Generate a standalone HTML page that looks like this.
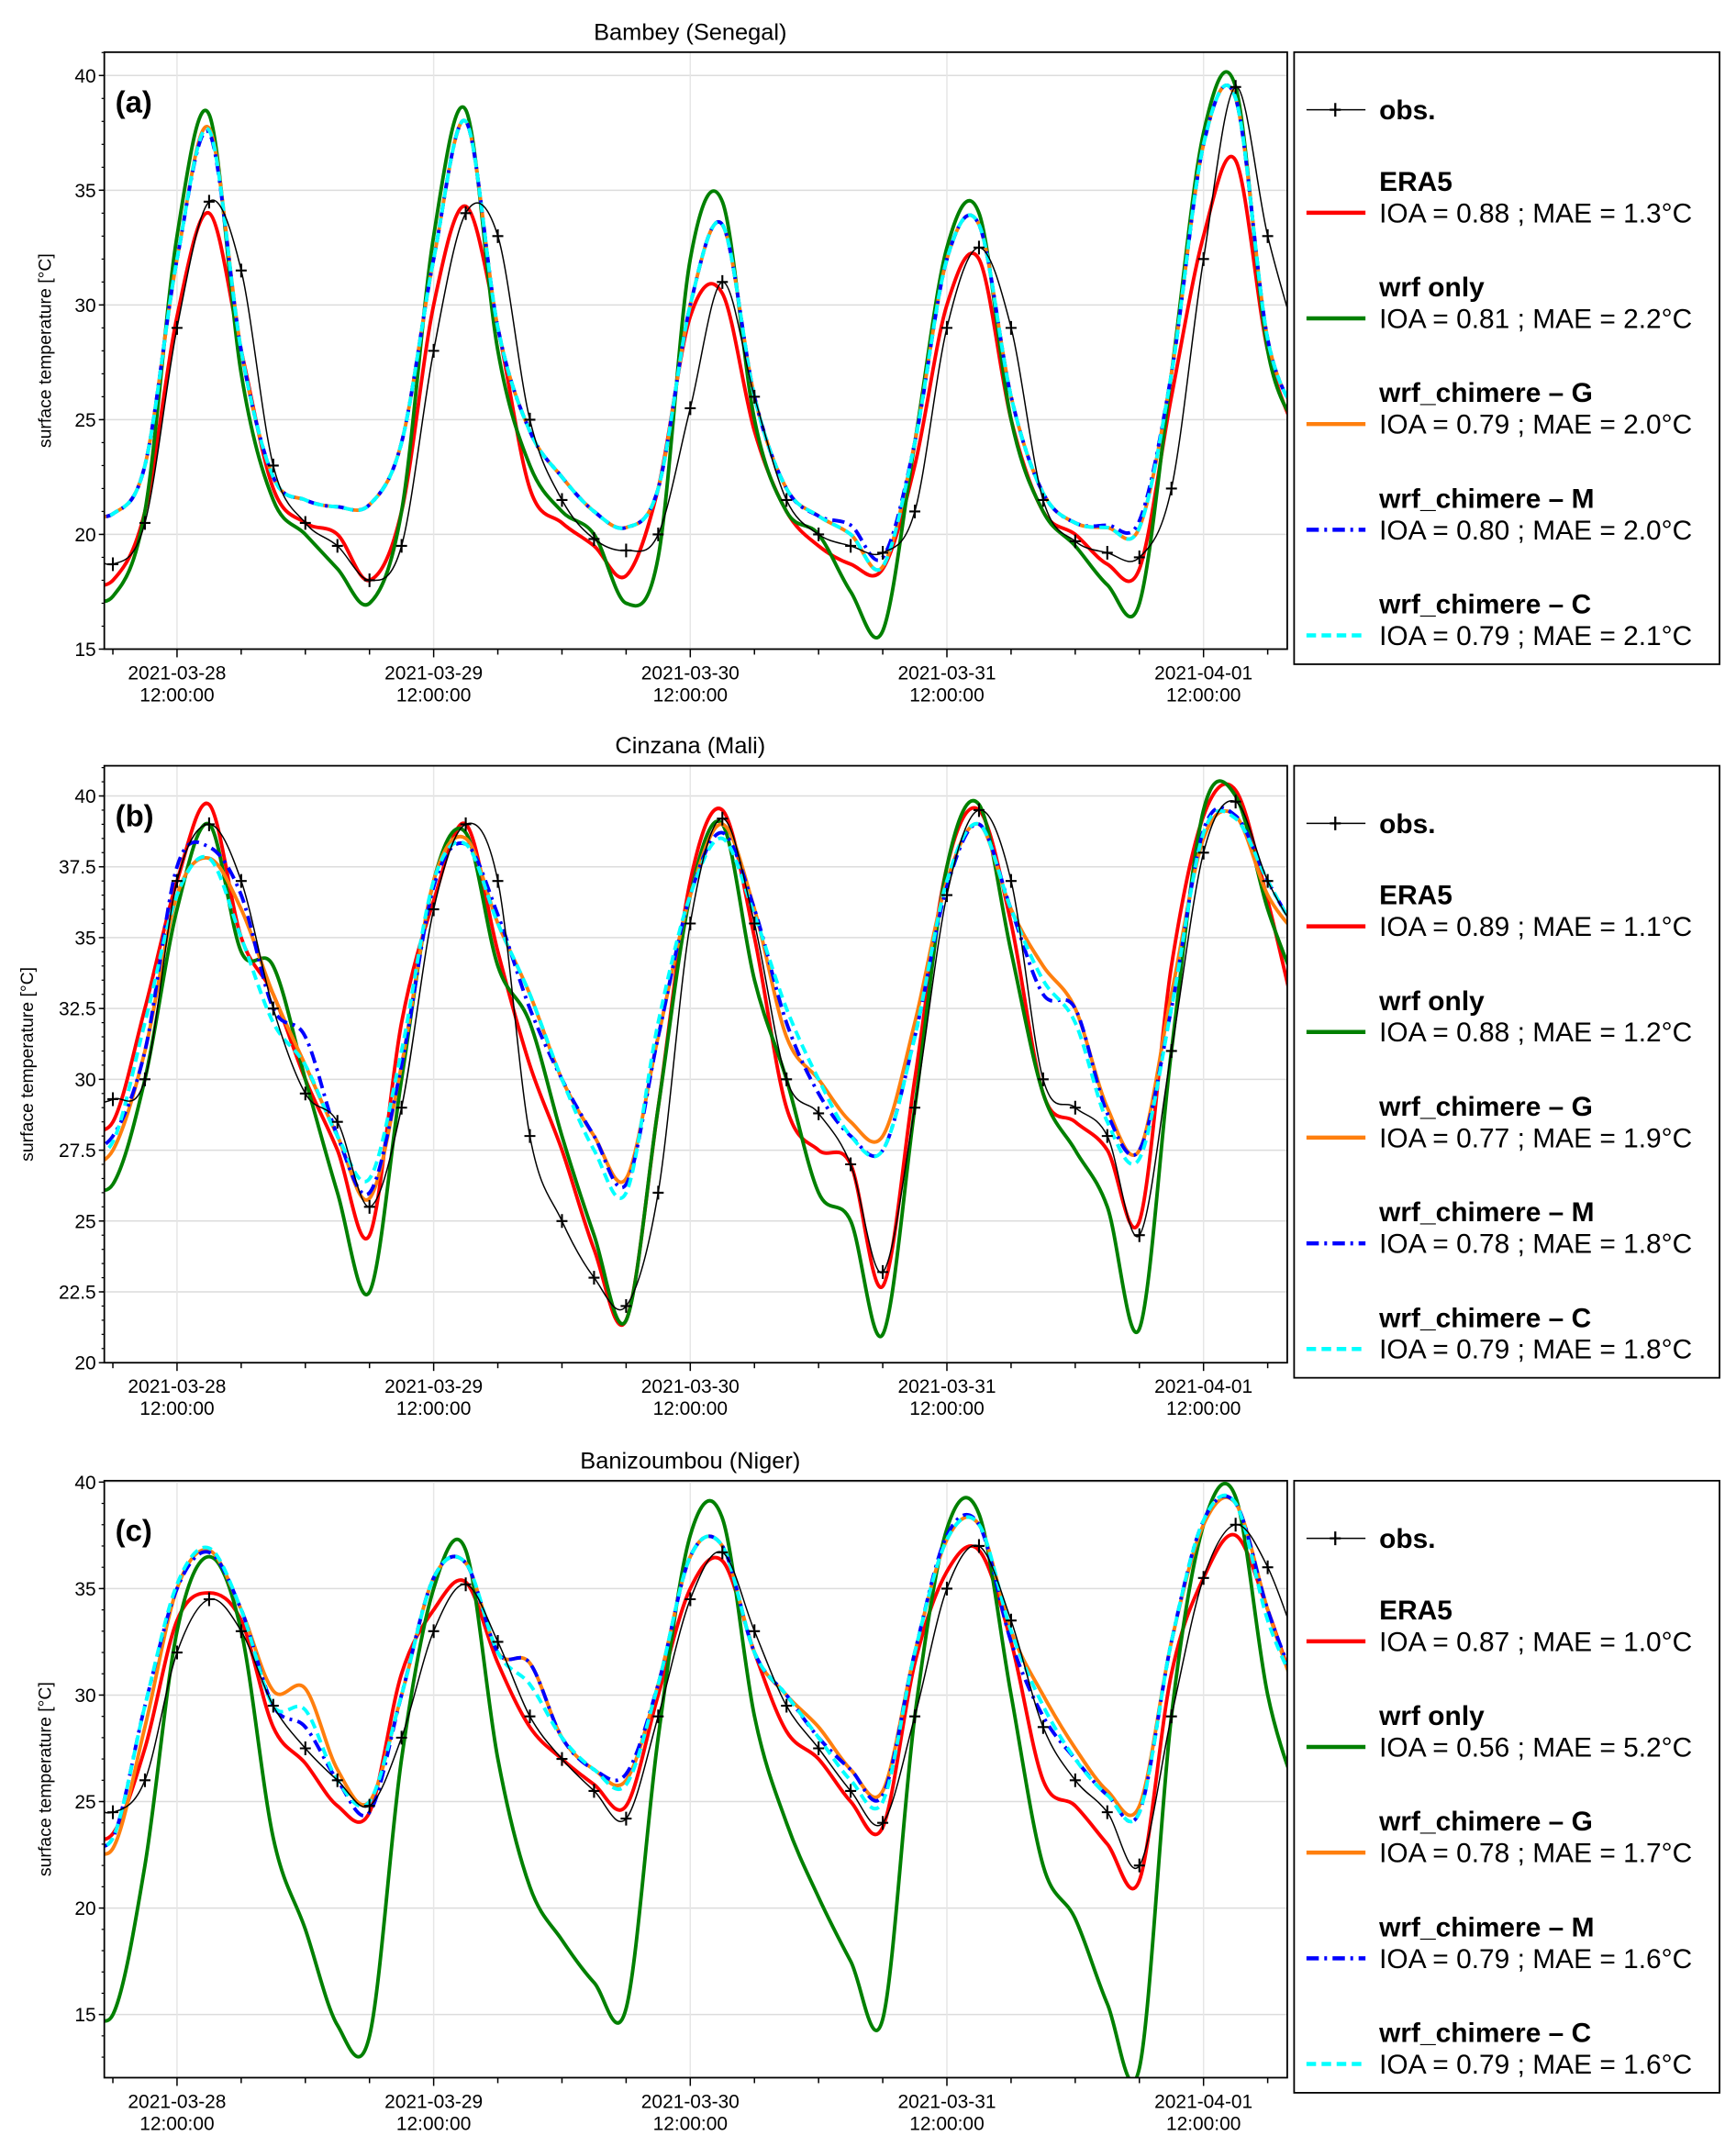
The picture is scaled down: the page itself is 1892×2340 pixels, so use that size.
<!DOCTYPE html>
<html><head><meta charset="utf-8"><style>
html,body{margin:0;padding:0;background:#fff}
svg{display:block;font-family:"Liberation Sans",sans-serif}
</style></head><body>
<svg id="fig" width="1892" height="2340" viewBox="0 0 1265 1564.5" xmlns="http://www.w3.org/2000/svg"></svg>
<script>
// time axis: hours since 2021-03-28 12:00, 3-hourly
const hours = [-9,-6,-3,0,3,6,9,12,15,18,21,24,27,30,33,36,39,42,45,48,51,54,57,60,63,66,69,72,75,78,81,84,87,90,93,96,99,102,105];
const xTickLabels = ["2021-03-28","2021-03-29","2021-03-30","2021-03-31","2021-04-01"];
const xTickHours = [0,24,48,72,96];
const seriesNames = ["obs.","ERA5","wrf only","wrf_chimere - G","wrf_chimere - M","wrf_chimere - C"];
const statsA = ["IOA = 0.88 ; MAE = 1.3°C","IOA = 0.81 ; MAE = 2.2°C","IOA = 0.79 ; MAE = 2.0°C","IOA = 0.80 ; MAE = 2.0°C","IOA = 0.79 ; MAE = 2.1°C"];
const statsB = ["IOA = 0.89 ; MAE = 1.1°C","IOA = 0.88 ; MAE = 1.2°C","IOA = 0.77 ; MAE = 1.9°C","IOA = 0.78 ; MAE = 1.8°C","IOA = 0.79 ; MAE = 1.8°C"];
const statsC = ["IOA = 0.87 ; MAE = 1.0°C","IOA = 0.56 ; MAE = 5.2°C","IOA = 0.78 ; MAE = 1.7°C","IOA = 0.79 ; MAE = 1.6°C","IOA = 0.79 ; MAE = 1.6°C"];

// Panel a – Bambey
const aObs  = [19.5,18.7,20.5,29,34.5,31.5,23,20.5,19.5,18,19.5,28,34,33,25,21.5,19.8,19.3,20,25.5,31,26,21.5,20,19.5,19.2,21,29,32.5,29,21.5,19.7,19.2,19,22,32,39.5,33,28];
const aEra  = [18,18,21,29.5,34,28,22,20.5,20,18,21,30,34.3,29,22,20.5,19.5,18.2,22,29.5,30.5,24.5,21,19.5,18.7,18.5,23,30,32,25,21,20,18.7,18.5,26,33,36.3,28,24];
const aWrf  = [17.5,17.3,21,33,38.3,27,21.5,20,18.5,17,21,33,38.5,28,23,21,20,17,19,32,34.5,25,21,20,17.5,15.8,24,32.5,34,25,21,19.5,17.8,17,27,37.5,39.5,28,24.5];
const aG    = [21,20.9,23,32,37.7,28,22.5,21.5,21.2,21.3,24,32,38,29,24.5,22.5,21,20.3,22,30,33.5,26,22,20.8,20,18.6,24,32,33.5,26,21.8,20.5,20.3,20.3,27,37,39,28.5,25];
const aM    = [21,20.9,23,32,37.5,28,22.5,21.5,21.2,21.3,24,32,38,29,24.5,22.5,21,20.3,22,30,33.5,26,22,20.8,20.4,19,24,32,33.5,26,21.8,20.5,20.4,20.6,27,37,39,28.5,25];
const aC    = [21,20.9,23,32,37.6,28,22.5,21.5,21.2,21.3,24,32,38,29,24.5,22.5,21,20.3,22,30,33.5,26,22,20.8,20,18.6,24,32,33.5,26,21.8,20.5,20.3,20.3,27,37,39,28.5,25];
// Panel b – Cinzana
const bObs  = [29,29.3,30,37,39,37,32.5,29.5,28.5,25.5,29,36,39,37,28,25,23,22,26,35.5,39.2,35.5,30,28.8,27,23.2,29,36.5,39.5,37,30,29,28,24.5,31,38,39.8,37,35];
const bEra  = [28.5,28.5,32.5,37,39.7,35,33,30,27.5,24.5,32,36.3,39,34.5,30.5,27.5,24,21.5,29,37,39.5,35,29,27.5,27,22.7,30,37.5,39.5,35.5,29.5,28.5,27.5,25,34,39.3,40.2,36.3,31.5];
const bWrf  = [26.5,26.3,30,36,39,34.5,34,30,26,22.5,30,37,38.7,34,32,28,24.5,21.5,29,36.5,39,33.5,30,26,25,21,29,37.5,39.7,34.5,29.5,27.5,25.5,21.2,31,39.5,40,36,33];
const bG    = [27,27.5,31,36.5,37.8,36,33,30.5,28,25.8,30.5,37,38.5,35.5,33,30,28,26.5,31.5,36.5,39,36,31.5,30,28.5,28,32,37,39,36,34,32.5,29,27.5,33,38.5,39.3,36.5,35];
const bM    = [27.5,28,31,37.5,38.2,36.5,32.5,31.5,28,26,30.5,36.8,38.3,35.8,32.5,30,28,26.3,31.5,36.5,38.7,36,32,29.5,28,27.5,31.5,36.8,39,36,33,32.5,28.8,27.5,32.5,38.8,39.3,37,35];
const bC    = [27.5,27.8,32,36.5,37.8,35,32,30.5,28,26.5,31,37,38.3,35.5,33,30,27.5,26,32,36.5,38.5,35.8,32.5,30,28,27.5,31.5,37,39,36,33.5,32,28.5,27.2,32.5,38.7,39.2,37,35];
// Panel c – Banizoumbou
const cObs  = [25,24.5,26,32,34.5,33,29.5,27.5,26,24.8,28,33,35.2,32.5,29,27,25.5,24.2,29,34.5,36.7,33,29.5,27.5,25.5,24,29,35,37,33.5,28.5,26,24.5,22,29,35.5,38,36,32];
const cEra  = [23.5,23.5,27.5,33.5,34.8,33.5,28.5,26.8,24.8,24.5,31,34,35.3,31.5,28.5,27,25.8,24.8,30,35,36.3,32,28.3,27,25,23.8,31.5,35.8,36.8,32.5,26,24.8,23,21.3,31,35.5,37.5,34,29.5];
const cWrf  = [16,15,22,33,36.5,33,23.3,19,14.5,14,27,35,36.8,27,21,18.5,16.5,15.3,28,37.5,38.3,29,24,20.5,17.5,14.8,29,37.8,38.5,30,22,19.5,15.5,12.5,29,38,39.3,30,25];
const cG    = [23.5,22.8,28.5,35,36.8,34,30.2,30.3,26.5,25,30,35.5,36.2,32,31.5,28,26.5,26,30.5,36.5,37,32,30,28.5,26.5,25.5,32,37.3,38,33,30,27.5,25.5,24.8,32.5,38,39,34,29.5];
const cM    = [23.5,23.3,29.5,35,36.7,34,29.5,28.5,26,24.5,30,35.5,36.2,32,31.5,28,26.5,26.3,30.5,36.5,37,32,30,28,26.5,25.3,32,37.5,38,32.5,29,27,25.3,24.5,32.5,38.2,39,34,30];
const cC    = [23.5,23.3,29.5,35.2,36.9,34,29.5,29.3,26,25,30,35.5,36.2,32,30.5,28,26.5,25.8,30.5,36.5,37,32,30,28,26,25,32,37.3,38,33,29.5,27,25.3,24.5,32.5,38.2,39,33.5,30];

const NS="http://www.w3.org/2000/svg";
const svg=document.getElementById('fig');
function mk(tag,attrs,parent){const e=document.createElementNS(NS,tag);for(const k in attrs)e.setAttribute(k,attrs[k]);(parent||svg).appendChild(e);return e;}

const X0=76,X1=938,XT0=129,PXH=187/24;
function xs(h){return XT0+h*PXH;}
const colors=["#000","#ff0000","#008000","#ff7f0e","#0000ff","#00ffff"];
const dashes=["","","","","9,4,2,4","7,4"];
const widths=[1,2.6,2.6,2.6,2.6,2.6];

function smoothPath(pts){
  let d="M"+pts[0][0].toFixed(1)+","+pts[0][1].toFixed(1);
  for(let i=0;i<pts.length-1;i++){
    const p0=pts[Math.max(0,i-1)],p1=pts[i],p2=pts[i+1],p3=pts[Math.min(pts.length-1,i+2)];
    const c1=[p1[0]+(p2[0]-p0[0])/6,p1[1]+(p2[1]-p0[1])/6];
    const c2=[p2[0]-(p3[0]-p1[0])/6,p2[1]-(p3[1]-p1[1])/6];
    d+=" C"+c1[0].toFixed(1)+","+c1[1].toFixed(1)+" "+c2[0].toFixed(1)+","+c2[1].toFixed(1)+" "+p2[0].toFixed(1)+","+p2[1].toFixed(1);
  }
  return d;
}

function panel(cfg){
  const g=mk('g',{});
  
  
  const ys=v=>cfg.yRef0+(cfg.vRef0-v)*cfg.ppu;
  const T=cfg.top,B=cfg.bottom;
  const title=mk('text',{x:503,y:T-9,'font-size':17,'text-anchor':'middle'},g);
  title.textContent=cfg.title;
  
  
  cfg.yTicks.forEach(v=>{mk('line',{x1:X0,x2:X1,y1:ys(v),y2:ys(v),stroke:'#dcdcdc','stroke-width':1},g);});
  xTickHours.forEach(h=>{mk('line',{x1:xs(h),x2:xs(h),y1:T,y2:B,stroke:'#e6e6e6','stroke-width':1},g);});
  const clipId='clip'+cfg.id;
  const cp=mk('clipPath',{id:clipId},g);mk('rect',{x:X0,y:T,width:X1-X0,height:B-T},cp);
  const sg=mk('g',{'clip-path':'url(#'+clipId+')'},g);
  const order=[1,2,3,4,5,0];
  order.forEach(si=>{
    const vals=cfg.series[si];
    const pts=hours.map((h,i)=>[xs(h),ys(vals[i])]);
    const p=mk('path',{d:smoothPath(pts),fill:'none',stroke:colors[si],'stroke-width':widths[si],'stroke-dasharray':dashes[si],'stroke-linejoin':'round'},sg);
    
    
    if(si===0){
      pts.forEach(q=>{
        const m=mk('path',{d:`M${q[0]-4},${q[1]}h8M${q[0]},${q[1]-5}v10`,stroke:'#000','stroke-width':1.4},sg);
        
        
      });
    }
  });
  mk('rect',{x:X0,y:T,width:X1-X0,height:B-T,fill:'none',stroke:'#000','stroke-width':1.2},g);
  cfg.yTicks.forEach(v=>{
    mk('line',{x1:X0-4,x2:X0,y1:ys(v),y2:ys(v),stroke:'#000'},g);
    const t=mk('text',{x:X0-6,y:ys(v)+5,'font-size':14,'text-anchor':'end'},g);
    t.textContent=String(v);
    
    
  });
  for(let v=Math.ceil(cfg.yMinVis);v<=cfg.yMaxVis;v+=cfg.minor){
    mk('line',{x1:X0-2,x2:X0,y1:ys(v),y2:ys(v),stroke:'#000','stroke-width':0.8},g);
  }
  for(let h=-6;h<=102;h+=6){
    const maj=(h%24===0);
    mk('line',{x1:xs(h),x2:xs(h),y1:B,y2:B+(maj?6:4),stroke:'#000'},g);
  }
  xTickHours.forEach((h,i)=>{
    const t=mk('text',{x:xs(h),y:B+22,'font-size':14,'text-anchor':'middle'},g);
    t.textContent=xTickLabels[i];
    
    
    const t2=mk('text',{x:xs(h),y:B+38,'font-size':14,'text-anchor':'middle'},g);
    t2.textContent="12:00:00";
    
    
  });
  const yl=mk('text',{x:0,y:0,'font-size':13,'text-anchor':'middle',transform:`translate(${cfg.ylx},${(T+B)/2}) rotate(-90)`},g);
  yl.textContent="surface temperature [°C]";
  
  
  const lt=mk('text',{x:84,y:T+44,'font-size':22,'font-weight':'bold'},g);
  lt.textContent=cfg.letter;
  
  
  const lg=mk('g',{},g);
  
  
  mk('rect',{x:943,y:T,width:310,height:446,fill:'#fff',stroke:'#000','stroke-width':1.2},lg);
  const ob=T+42;
  mk('line',{x1:952,x2:995,y1:ob,y2:ob,stroke:'#000','stroke-width':1},lg);
  mk('path',{d:`M969,${ob}h8M973,${ob-5}v10`,stroke:'#000','stroke-width':1.5},lg);
  const to=mk('text',{x:1005,y:ob+7,'font-size':20,'font-weight':'bold'},lg);
  to.textContent="obs.";
  
  
  for(let i=1;i<6;i++){
    const ly=T+117+(i-1)*77;
    mk('line',{x1:952,x2:995,y1:ly,y2:ly,stroke:colors[i],'stroke-width':3,'stroke-dasharray':dashes[i]},lg);
    const n=mk('text',{x:1005,y:ly-16,'font-size':20,'font-weight':'bold'},lg);
    n.textContent=seriesNames[i].replace(' - ',' – ');
    
    
    const s=mk('text',{x:1005,y:ly+7,'font-size':20},lg);
    s.textContent=cfg.stats[i-1];
    
    
  }
}

panel({id:'a',name:'panel-a-bambey',title:'Bambey (Senegal)',letter:'(a)',top:38,bottom:473,yRef0:55,vRef0:40,ppu:16.72,yTicks:[15,20,25,30,35,40],minor:1,yMinVis:15,yMaxVis:41,ylx:37,
  series:[aObs,aEra,aWrf,aG,aM,aC],stats:statsA});
panel({id:'b',name:'panel-b-cinzana',title:'Cinzana (Mali)',letter:'(b)',top:558,bottom:993,yRef0:580,vRef0:40,ppu:20.65,yTicks:[20,22.5,25,27.5,30,32.5,35,37.5,40],minor:0.5,yMinVis:20,yMaxVis:41,ylx:24,
  series:[bObs,bEra,bWrf,bG,bM,bC],stats:statsB});
panel({id:'c',name:'panel-c-banizoumbou',title:'Banizoumbou (Niger)',letter:'(c)',top:1079,bottom:1514,yRef0:1080,vRef0:40,ppu:15.52,yTicks:[15,20,25,30,35,40],minor:1,yMinVis:12.1,yMaxVis:40,ylx:37,
  series:[cObs,cEra,cWrf,cG,cM,cC],stats:statsC});
</script>
</body></html>
